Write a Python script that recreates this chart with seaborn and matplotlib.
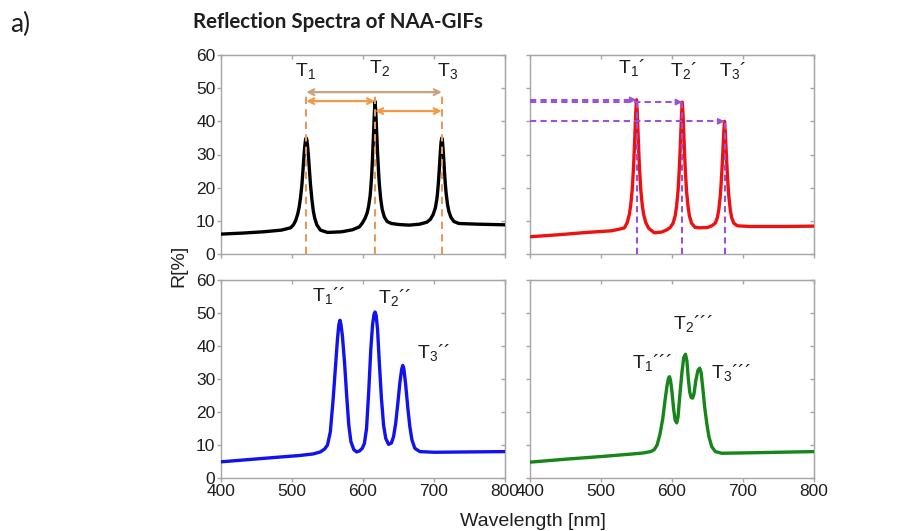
import matplotlib
matplotlib.use("Agg")
import matplotlib.pyplot as plt
import pandas as pd
import seaborn as sns

# ---------------------------------------------------------------- data
# NAA-GIF reflection spectra: wavelength [nm] and reflectance R [%]
black_wl = [400, 430, 460, 485, 498, 502, 505, 508, 510, 512,
            514, 515, 516, 517, 518, 519, 520, 521, 522, 523,
            524, 525, 526, 528, 530, 532, 535, 540, 550, 570,
            585, 595, 599, 603, 606, 608, 610, 611, 612, 613,
            614, 615, 616, 617, 618, 619, 620, 621, 622, 623,
            625, 627, 630, 634, 640, 650, 665, 680, 690, 695,
            699, 702, 704, 705, 706, 707, 708, 709, 710, 711,
            712, 713, 714, 715, 716, 717, 719, 721, 724, 728,
            735, 760, 800]
black_r = [6.0, 6.3, 6.7, 7.2, 7.9, 8.8, 10.0, 12.0, 14.0, 17.0,
           21.0, 24.0, 27.0, 30.0, 32.5, 34.3, 35.0, 34.3, 32.5, 30.0,
           27.0, 24.0, 21.0, 16.5, 13.0, 10.8, 8.8, 7.2, 6.5, 6.7,
           7.3, 8.2, 9.3, 10.8, 12.5, 14.5, 17.5, 20.0, 23.0, 27.0,
           32.0, 37.0, 42.5, 46.0, 43.0, 38.0, 33.0, 28.5, 24.5, 21.0,
           16.5, 13.5, 11.2, 9.8, 9.2, 8.9, 8.7, 9.0, 9.6, 10.5,
           12.0, 14.0, 16.5, 18.5, 21.0, 24.0, 27.5, 31.0, 33.8, 35.0,
           33.8, 31.0, 27.5, 24.0, 21.0, 18.5, 15.0, 12.8, 11.0, 9.8,
           9.2, 9.0, 8.8]

red_wl = [400, 440, 480, 515, 528, 533, 537, 540, 542, 544,
          545, 546, 547, 548, 549, 550, 551, 552, 553, 554,
          555, 556, 558, 560, 563, 567, 575, 585, 592, 597.5,
          601.5, 604.5, 606.5, 608.5, 609.5, 610.5, 611.5, 612.5, 613.5, 614.5,
          615.5, 616.5, 617.5, 618.5, 619.5, 620.5, 622.5, 624.5, 627.5, 632.5,
          640, 650, 656, 661, 664, 666, 668, 669, 670, 671,
          672, 673, 674, 675, 676, 677, 678, 679, 680, 682,
          684, 687, 692, 710, 760, 800]
red_r = [5.2, 5.8, 6.5, 7.0, 7.6, 7.9, 9.5, 12.0, 15.0, 19.5,
         23.0, 27.0, 32.0, 37.5, 43.0, 46.5, 43.0, 37.5, 32.0, 27.0,
         23.0, 19.5, 15.0, 12.0, 9.5, 7.8, 6.4, 6.6, 7.2, 8.0,
         9.3, 11.5, 14.5, 19.0, 22.5, 26.5, 31.5, 37.0, 42.3, 45.8,
         42.3, 37.0, 31.5, 26.5, 22.5, 19.0, 14.5, 11.5, 9.3, 8.0,
         7.9, 8.0, 8.5, 9.3, 11.0, 13.5, 17.5, 20.5, 24.0, 28.0,
         32.5, 37.0, 40.0, 37.0, 32.5, 28.0, 24.0, 20.5, 17.5, 13.5,
         11.0, 9.3, 8.5, 8.3, 8.3, 8.4]

blue_wl = [400, 440, 480, 510, 530, 540, 546, 550, 554, 558,
           561, 564, 566, 567.6, 569, 571, 574, 577, 580, 583,
           587, 591, 595, 599, 602, 605, 608, 611, 613.5, 615.5,
           617, 618.5, 620.5, 623, 626, 629, 632, 636, 640, 643,
           646, 649, 652, 654.5, 656, 657.5, 660, 663, 666, 669,
           673, 680, 700, 750, 800]
blue_r = [4.9, 5.6, 6.3, 6.8, 7.3, 7.9, 8.8, 10.0, 14.0, 24.0,
          33.0, 42.0, 46.5, 47.8, 46.5, 43.0, 35.0, 25.0, 16.0, 11.0,
          8.6, 7.9, 8.2, 9.0, 10.5, 15.0, 26.0, 39.0, 46.5, 49.6,
          50.3, 49.3, 45.0, 35.0, 24.0, 16.0, 12.0, 10.2, 10.6, 12.5,
          16.5, 22.5, 29.0, 33.0, 34.1, 33.2, 28.5, 21.5, 15.5, 11.5,
          9.0, 8.0, 7.8, 7.9, 8.0]

green_wl = [400, 450, 500, 540, 560, 570, 575, 579, 583, 587,
            590, 593, 595, 596.5, 598, 600, 602.5, 604.5, 606.6, 608.5,
            611, 614, 616.5, 619, 621, 623, 625, 627, 629, 631,
            633.5, 636.5, 639, 641, 643.5, 646, 649, 652, 656, 661,
            670, 700, 750, 800]
green_r = [4.8, 5.7, 6.5, 7.2, 7.6, 8.0, 8.6, 10.0, 13.2, 18.0,
           23.2, 28.0, 30.2, 30.7, 29.5, 26.0, 20.5, 17.5, 16.7, 18.5,
           25.0, 32.0, 36.5, 37.5, 35.5, 30.0, 26.0, 24.4, 24.2, 25.5,
           29.5, 32.6, 33.3, 32.0, 27.0, 21.5, 16.5, 12.5, 9.5, 8.0,
           7.5, 7.6, 7.8, 8.0]

# Peak positions of the initial spectrum (black) and of the red spectrum
black_peak_wl = [520, 617, 711]
black_peak_r = [35.0, 46.0, 35.0]
red_peak_wl = [550, 614.5, 674]
red_peak_r = [46.5, 45.8, 40.0]

x_ticks = [400, 500, 600, 700, 800]
y_ticks = [0, 10, 20, 30, 40, 50, 60]

# ---------------------------------------------------------------- style
sns.set_style("white")
plt.rcParams["font.family"] = ["Liberation Sans", "DejaVu Sans"]
plt.rcParams["mathtext.fontset"] = "custom"
plt.rcParams["mathtext.rm"] = "Liberation Sans"
plt.rcParams["mathtext.it"] = "Liberation Sans:italic"

SPINE = "#a6a6a6"
TXT = "#1e1e1e"
ORANGE = "#f29a46"
ORANGE_V = "#e49c5c"
TAN = "#c9a27f"
PURPLE = "#9b52d8"

W, H = 922, 531
fig = plt.figure(figsize=(W / 100, H / 100), dpi=100)


def px_axes(left, top, right, bottom):
    return fig.add_axes([left / W, 1 - bottom / H, (right - left) / W, (bottom - top) / H])


ax_tl = px_axes(221, 55, 505, 254)
ax_tr = px_axes(530, 55, 814, 254)
ax_bl = px_axes(221, 280, 505, 478)
ax_br = px_axes(530, 280, 814, 478)


def style_axes(ax, show_x, show_y):
    ax.set_xlim(400, 800)
    ax.set_ylim(0, 60)
    ax.set_xticks(x_ticks)
    ax.set_yticks(y_ticks)
    for s in ax.spines.values():
        s.set_color(SPINE)
        s.set_linewidth(1.0)
    ax.tick_params(direction="out", length=3, width=1.0, color=SPINE,
                   labelsize=12.5, labelcolor=TXT, pad=1.0,
                   labelbottom=show_x, labelleft=show_y,
                   bottom=True, left=True)
    # inward ticks on the top and right frame
    top = ax.secondary_xaxis("top")
    top.set_xticks(x_ticks)
    top.tick_params(direction="in", length=3, width=1.0, color=SPINE, labeltop=False)
    top.spines["top"].set_color(SPINE)
    right = ax.secondary_yaxis("right")
    right.set_yticks(y_ticks)
    right.tick_params(direction="in", length=3, width=1.0, color=SPINE, labelright=False)
    right.spines["right"].set_color(SPINE)
    ax.set_xlabel("")
    ax.set_ylabel("")


def draw_spectrum(ax, wl, r, color):
    df = pd.DataFrame({"wavelength": wl, "R": r})
    sns.lineplot(data=df, x="wavelength", y="R", ax=ax, color=color,
                 linewidth=2.4, estimator=None, sort=True, zorder=3)


draw_spectrum(ax_tl, black_wl, black_r, "#000000")
draw_spectrum(ax_tr, red_wl, red_r, "#ee1111")
draw_spectrum(ax_bl, blue_wl, blue_r, "#1212ee")
draw_spectrum(ax_br, green_wl, green_r, "#16861a")

for ax, sx, sy in [(ax_tl, False, True), (ax_tr, False, False),
                   (ax_bl, True, True), (ax_br, True, False)]:
    style_axes(ax, sx, sy)

# ---------------------------------------------------------------- peak labels
LBL = dict(fontsize=14, color=TXT, ha="left", va="baseline")
p1, p2, p3 = "´", "´´", "´´´"
ax_tl.text(504, 53.7, r"$\mathrm{T}_{1}$", **LBL)
ax_tl.text(609, 54.5, r"$\mathrm{T}_{2}$", **LBL)
ax_tl.text(704.5, 53.7, r"$\mathrm{T}_{3}$", **LBL)

ax_tr.text(524, 54.7, r"$\mathrm{T}_{1}$" + p1, **LBL)
ax_tr.text(597, 53.7, r"$\mathrm{T}_{2}$" + p1, **LBL)
ax_tr.text(666.5, 53.7, r"$\mathrm{T}_{3}$" + p1, **LBL)

ax_bl.text(527.5, 53.6, r"$\mathrm{T}_{1}$" + p2, **LBL)
ax_bl.text(621.5, 53.1, r"$\mathrm{T}_{2}$" + p2, **LBL)
ax_bl.text(675.5, 36.3, r"$\mathrm{T}_{3}$" + p2, **LBL)

ax_br.text(543, 33.3, r"$\mathrm{T}_{1}$" + p3, **LBL)
ax_br.text(602, 45.3, r"$\mathrm{T}_{2}$" + p3, **LBL)
ax_br.text(654.5, 30.2, r"$\mathrm{T}_{3}$" + p3, **LBL)

# ---------------------------------------------------------------- peak spacing arrows (black)
top_level, mid_level, low_level = 48.8, 46.1, 43.1
ax_tl.vlines(black_peak_wl, 0, top_level, colors=ORANGE_V,
             linestyles=(0, (3.5, 2.5)), linewidth=1.5, zorder=4)


def double_arrow(ax, x0, x1, y, color):
    ax.annotate("", xy=(x1, y), xytext=(x0, y),
                arrowprops=dict(arrowstyle="<->", color=color, lw=1.6,
                                shrinkA=0, shrinkB=0, mutation_scale=10), zorder=5)


double_arrow(ax_tl, black_peak_wl[0], black_peak_wl[2], top_level, TAN)
double_arrow(ax_tl, black_peak_wl[0], black_peak_wl[1], mid_level, ORANGE)
double_arrow(ax_tl, black_peak_wl[1], black_peak_wl[2], low_level, ORANGE)

# ---------------------------------------------------------------- peak height guides (red)
for pw, pr in zip(red_peak_wl, red_peak_r):
    ax_tr.hlines(pr, 400, pw - 3, colors=PURPLE, linestyles=(0, (3, 2)),
                 linewidth=1.5, zorder=4)
    ax_tr.annotate("", xy=(pw, pr), xytext=(pw - 4, pr),
                   arrowprops=dict(arrowstyle="-|>", color=PURPLE, lw=1.2,
                                   shrinkA=0, shrinkB=0, mutation_scale=9), zorder=5)
    ax_tr.vlines(pw, 0, pr, colors=PURPLE, linestyles=(0, (3, 2)),
                 linewidth=1.5, zorder=4)

# ---------------------------------------------------------------- figure texts
fig.text(193 / W, 1 - 28.5 / H, "Reflection Spectra of NAA-GIFs", fontsize=14.8,
         fontweight="bold", family=["Lato", "DejaVu Sans"], color=TXT, va="baseline")
fig.text(10 / W, 1 - 32 / H, "a)", fontsize=19, family=["Lato", "DejaVu Sans"],
         color=TXT, va="baseline")
fig.text(179 / W, 1 - 266 / H, "R[%]", rotation=90, fontsize=14, color=TXT,
         ha="center", va="center")
fig.text(533 / W, 1 - 526.5 / H, "Wavelength [nm]", fontsize=14, color=TXT,
         ha="center", va="baseline")

fig.savefig("out.png", dpi=100)
